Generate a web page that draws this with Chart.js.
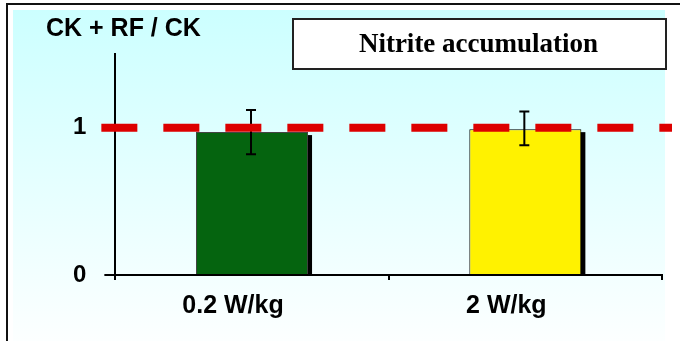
<!DOCTYPE html>
<html>
<head>
<meta charset="utf-8">
<script src="https://cdn.jsdelivr.net/npm/chart.js@4"></script>
<style>
  html, body { margin: 0; padding: 0; background: #fff; }
  #wrap { width: 680px; height: 341px; }
</style>
</head>
<body>
<div id="wrap"><canvas id="myChart" width="680" height="341"></canvas></div>
<script>
var categories = ['0.2 W/kg', '2 W/kg'];
var ratio = [0.97, 0.99];
var errLow = [0.82, 0.88];
var errHigh = [1.12, 1.11];
var refLine = 1;
var yTicks = [0, 1];
var barColors = ['#05640f', '#fff200'];
var chartTitle = 'Nitrite accumulation';
var yTitle = 'CK + RF / CK';

// background, frame and the two text boxes
var decor = {
  id: 'decor',
  beforeDraw: function(chart) {
    var c = chart.ctx;
    c.save();
    c.fillStyle = '#fff';
    c.fillRect(0, 0, chart.width, chart.height);
    var g = c.createLinearGradient(0, 10, 0, 360);
    g.addColorStop(0, '#ccffff');
    g.addColorStop(1, '#ffffff');
    c.fillStyle = g;
    c.fillRect(13, 10, 652, 340);
    c.strokeStyle = '#111';
    c.lineWidth = 2;
    c.beginPath();
    c.moveTo(7, 345);
    c.lineTo(7, 4);
    c.lineTo(682, 4);
    c.stroke();
    // title box
    c.fillStyle = '#fff';
    c.fillRect(293, 19, 373, 50);
    c.lineWidth = 2;
    c.strokeStyle = '#222';
    c.strokeRect(293, 19, 373, 50);
    c.fillStyle = '#000';
    c.font = 'bold 27px "Liberation Serif"';
    c.textAlign = 'center';
    c.textBaseline = 'middle';
    c.fillText(chartTitle, 478.5, 45);
    c.font = 'bold 25px "Liberation Sans"';
    c.textAlign = 'left';
    c.fillText(yTitle, 46, 29);
    c.restore();
  },
  beforeDatasetsDraw: function(chart) {
    // drop shadow on the right of each bar
    var c = chart.ctx;
    c.save();
    c.fillStyle = '#000';
    chart.getDatasetMeta(0).data.forEach(function(bar) {
      var half = bar.width / 2;
      c.fillRect(bar.x - half + 4, bar.y + 3, bar.width, bar.base - bar.y - 3);
    });
    c.restore();
  },
  afterDatasetsDraw: function(chart) {
    var c = chart.ctx;
    var y = chart.scales.y;
    c.save();
    // error bars
    c.strokeStyle = '#000';
    c.lineWidth = 2;
    chart.getDatasetMeta(0).data.forEach(function(bar, i) {
      var x = bar.x - 1;
      var y1 = y.getPixelForValue(errHigh[i]);
      var y2 = y.getPixelForValue(errLow[i]);
      c.beginPath();
      c.moveTo(x, y1); c.lineTo(x, y2);
      c.moveTo(x - 5, y1); c.lineTo(x + 5, y1);
      c.moveTo(x - 5, y2); c.lineTo(x + 5, y2);
      c.stroke();
    });
    // red dashed reference line
    var ry = y.getPixelForValue(refLine);
    c.strokeStyle = '#dd0000';
    c.lineWidth = 8;
    c.setLineDash([36, 26]);
    c.beginPath();
    c.moveTo(chart.chartArea.left - 14, ry);
    c.lineTo(chart.chartArea.right + 10, ry);
    c.stroke();
    c.restore();
  }
};

new Chart(document.getElementById('myChart'), {
  type: 'bar',
  data: {
    labels: categories,
    datasets: [{
      data: ratio,
      backgroundColor: barColors,
      borderColor: ['#444', '#000'],
      borderWidth: 1,
      categoryPercentage: 1,
      barPercentage: 0.41
    }]
  },
  options: {
    responsive: false,
    animation: false,
    layout: { padding: { left: 55, right: 18, top: 54, bottom: 9 } },
    plugins: { legend: { display: false }, tooltip: { enabled: false } },
    scales: {
      x: {
        offset: true,
        grid: { offset: true, drawOnChartArea: false, tickLength: 5, color: '#000', lineWidth: 2 },
        border: { color: '#000', width: 2 },
        ticks: { color: '#000', padding: 11, labelOffset: -19, font: { family: 'Liberation Sans', size: 25, weight: 'bold' } }
      },
      y: {
        min: 0,
        max: 1.5,
        afterBuildTicks: function(axis) {
          axis.ticks = yTicks.map(function(v) { return { value: v }; });
        },
        grid: { drawOnChartArea: false, tickLength: 11, color: '#000', lineWidth: 2 },
        border: { color: '#000', width: 2 },
        ticks: { color: '#000', padding: 18, font: { family: 'Liberation Sans', size: 24, weight: 'bold' } }
      }
    }
  },
  plugins: [decor]
});
</script>
</body>
</html>
